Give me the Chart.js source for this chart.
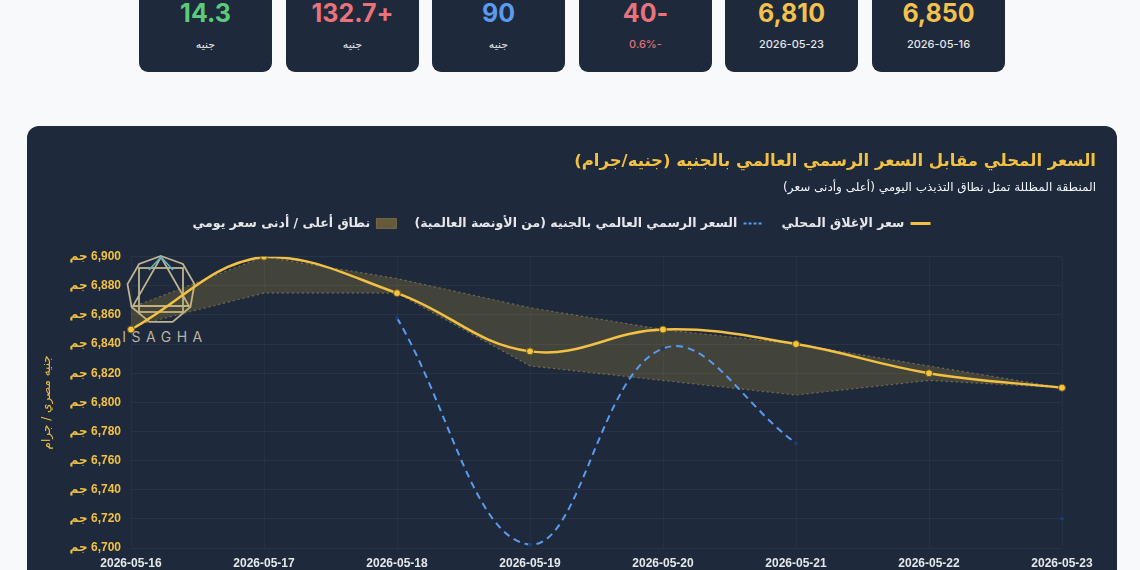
<!DOCTYPE html>
<html lang="ar" dir="rtl">
<head>
<meta charset="utf-8">
<script src="https://cdn.jsdelivr.net/npm/chart.js@4.4.1/dist/chart.umd.min.js"></script>
<style>
html,body{margin:0;padding:0;}
body{width:1140px;height:570px;overflow:hidden;background:#f8f9fb;position:relative;font-family:Inter,"DejaVu Sans",sans-serif;}
.card{position:absolute;top:-30px;width:133px;height:102px;background:#1e293b;border-radius:9px;text-align:center;color:#fff;}
.card .v{position:absolute;left:0;right:0;top:28px;font-weight:700;font-size:25px;line-height:30px;font-family:Inter,"DejaVu Sans",sans-serif;}
.card .s{position:absolute;left:0;right:0;top:66px;font-weight:500;font-size:11px;line-height:16px;color:#e5e7eb;font-family:Inter,"DejaVu Sans",sans-serif;}
#panel{position:absolute;left:27px;top:126px;width:1090px;height:480px;background:#1e293b;border-radius:12px;overflow:hidden;}
#wm{position:absolute;left:84px;top:114px;width:110px;height:110px;}
#c{position:absolute;left:0;top:0;}
</style>
</head>
<body>
<div id="cards"></div>
<div id="panel">
  <svg id="wm" viewBox="0 0 110 110" xmlns="http://www.w3.org/2000/svg">
    <g fill="none" stroke-width="1.8" opacity="0.85">
      <polygon id="nona" stroke="#d8cca0" points=""/>
      <rect x="28" y="28" width="44" height="44" stroke="#d8cca0"/>
      <polygon points="50,17 78,66 22,66" stroke="#d8cca0"/>
      <polyline points="38,30 50,17 62,30" stroke="#6cc7d4"/>
    </g>
    <text x="54" y="102" text-anchor="middle" fill="#b9b3a2" font-family="Inter, sans-serif" font-size="14" letter-spacing="5.5" direction="ltr">ISAGHA</text>
  </svg>
  <canvas id="c" width="1090" height="470"></canvas>
</div>
<script>
// ---- data ----
const labels = ['2026-05-16','2026-05-17','2026-05-18','2026-05-19','2026-05-20','2026-05-21','2026-05-22','2026-05-23'];
const localClose = [6850, 6900, 6875, 6835, 6850, 6840, 6820, 6810];
const worldPrice = [null, null, 6858, 6702.3, 6837, 6772, null, 6720];
const dailyHigh  = [6865, 6900, 6885, 6865, 6850, 6840, 6825, 6810];
const dailyLow   = [6852, 6875, 6875, 6825, 6815, 6805, 6815, 6810];
const cardValues = ['6,850', '6,810', '-40', '90', '+132.7', '14.3'];
const cardSubs   = ['2026-05-16', '2026-05-23', '-0.6%', 'جنيه', 'جنيه', 'جنيه'];
const cardColors = ['#f2c14e', '#f2c14e', '#e8737b', '#5b9bef', '#e8737b', '#5cc97c'];
const cardSubColors = ['#e5e7eb', '#e5e7eb', '#e0717a', '#e5e7eb', '#e5e7eb', '#e5e7eb'];
const cardLefts = [872, 725, 579, 432, 286, 139];

const titleText = 'السعر المحلي مقابل السعر الرسمي العالمي بالجنيه (جنيه/جرام)';
const subtitleText = 'المنطقة المظللة تمثل نطاق التذبذب اليومي (أعلى وأدنى سعر)';
const closeLabel = 'سعر الإغلاق المحلي';
const worldLabel = 'السعر الرسمي العالمي بالجنيه (من الأونصة العالمية)';
const bandLabel = 'نطاق أعلى / أدنى سعر يومي';
const yTitle = 'جنيه مصري / جرام';
const unit = 'جم';

// cards
const cardsEl = document.getElementById('cards');
cardValues.forEach((v, i) => {
  const d = document.createElement('div');
  d.className = 'card';
  d.style.left = cardLefts[i] + 'px';
  d.innerHTML = '<div class="v" style="color:' + cardColors[i] + '">' + v + '</div><div class="s" style="color:' + cardSubColors[i] + '">' + cardSubs[i] + '</div>';
  cardsEl.appendChild(d);
});

// watermark polygon
(function(){
  const pts = [];
  for (let k = 0; k < 9; k++) {
    const a = -Math.PI/2 + k * 2*Math.PI/9;
    pts.push((50 + 34*Math.cos(a)).toFixed(1) + ',' + (50 + 34*Math.sin(a)).toFixed(1));
  }
  document.getElementById('nona').setAttribute('points', pts.join(' '));
})();

const gold = '#f2c144';
const blue = '#5b9bef';
const fontAr = '"DejaVu Sans", sans-serif';
const fontNum = '"Liberation Sans", Arial, "DejaVu Sans", sans-serif';

const legendSpace = {
  id: 'legendSpace',
  beforeInit(chart) {
    const orig = chart.legend.fit;
    chart.legend.fit = function () {
      orig.bind(chart.legend)();
      this.height += 17;
    };
  }
};

new Chart(document.getElementById('c'), {
  type: 'line',
  data: {
    labels: labels,
    datasets: [
      {
        label: closeLabel,
        data: localClose,
        borderColor: gold,
        borderWidth: 2.5,
        tension: 0.4,
        pointRadius: 3.5,
        pointBackgroundColor: '#f5c542',
        pointBorderColor: '#6b5418',
        pointBorderWidth: 1,
        fill: false,
        order: 0
      },
      {
        label: worldLabel,
        data: worldPrice,
        borderColor: blue,
        borderWidth: 2,
        borderDash: [7, 5],
        tension: 0.4,
        spanGaps: false,
        pointRadius: 2,
        pointBackgroundColor: '#1e3a6e',
        pointBorderColor: '#1e3a6e',
        pointBorderWidth: 0,
        fill: false,
        order: 1
      },
      {
        label: bandLabel,
        data: dailyHigh,
        borderColor: 'rgba(200,175,110,0.45)',
        borderWidth: 1.2,
        borderDash: [2, 3],
        tension: 0,
        pointRadius: 0,
        backgroundColor: 'rgba(212,175,55,0.2)',
        fill: '+1',
        order: 2
      },
      {
        label: 'low',
        data: dailyLow,
        borderColor: 'rgba(200,175,110,0.45)',
        borderWidth: 1.2,
        borderDash: [2, 3],
        tension: 0,
        pointRadius: 0,
        fill: false,
        order: 3
      }
    ]
  },
  options: {
    responsive: false,
    animation: false,
    layout: { padding: { top: 14, right: 21, bottom: 18, left: 0 } },
    plugins: {
      title: {
        display: true, text: titleText, align: 'end', color: gold,
        font: { family: fontAr, size: 16.5, weight: 'bold' },
        padding: { top: 12, bottom: 0 }
      },
      subtitle: {
        display: true, text: subtitleText, align: 'end', color: '#f1f5f9',
        font: { family: fontAr, size: 12 },
        padding: { top: 9, bottom: 4 }
      },
      legend: {
        display: true, position: 'top', align: 'center', rtl: true,
        labels: {
          color: '#e5e7eb',
          font: { family: fontAr, size: 12.5, weight: 'bold' },
          usePointStyle: true,
          pointStyleWidth: 20,
          boxHeight: 10,
          padding: 18,
          generateLabels() {
            return [
              { text: closeLabel, pointStyle: 'line', strokeStyle: gold, fillStyle: gold, lineWidth: 3, datasetIndex: 0, fontColor: '#e5e7eb' },
              { text: worldLabel, pointStyle: 'line', strokeStyle: blue, fillStyle: blue, lineWidth: 2, lineDash: [3, 2], datasetIndex: 1, fontColor: '#e5e7eb' },
              { text: bandLabel, pointStyle: 'rect', strokeStyle: 'rgba(150,130,80,0.6)', fillStyle: 'rgba(110,95,60,0.9)', lineWidth: 1, datasetIndex: 2, fontColor: '#e5e7eb' }
            ];
          }
        }
      },
      tooltip: { enabled: false }
    },
    scales: {
      x: {
        offset: false,
        grid: { color: 'rgba(255,255,255,0.035)', drawTicks: false },
        border: { display: false },
        ticks: { color: '#e5e7eb', font: { family: fontNum, size: 12, weight: 'bold' }, padding: 8, maxRotation: 0 },
        afterFit(s) { s.height = 30; s.paddingRight = 55; }
      },
      y: {
        min: 6700, max: 6900,
        grid: { color: 'rgba(255,255,255,0.05)', drawTicks: false },
        border: { display: false },
        ticks: {
          stepSize: 20, color: gold, padding: 10,
          font: { family: fontNum, size: 12, weight: 'bold' },
          callback: (v) => v.toLocaleString('en-US') + ' ' + unit
        },
        title: {
          display: true, text: yTitle, color: gold,
          font: { family: fontAr, size: 12 },
          padding: { top: 13, bottom: 0 }
        },
        afterFit(s) { s.width = 104; }
      }
    }
  },
  plugins: [legendSpace]
});
</script>
</body>
</html>
